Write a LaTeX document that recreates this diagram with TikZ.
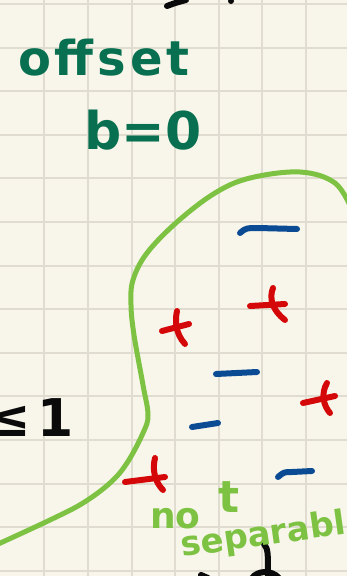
\documentclass[tikz,border=0pt]{standalone}
\usepackage{fontspec}
\setmainfont{DejaVu Sans}
\definecolor{paper}{RGB}{248,246,234}
\definecolor{gridc}{RGB}{224,221,208}
\definecolor{inkgreen}{RGB}{8,112,80}
\definecolor{limeg}{RGB}{125,194,66}
\definecolor{redink}{RGB}{212,8,8}
\definecolor{blueink}{RGB}{10,75,148}
\definecolor{blackink}{RGB}{10,10,10}
\tikzset{
  pen/.style={line width=6pt, line cap=round, line join=round},
  plusmark/.style={pen, draw=redink},
  minusmark/.style={pen, draw=blueink},
  txt/.style={inner sep=0pt, anchor=base west}
}
\begin{document}
\begin{tikzpicture}[x=1pt,y=-1pt]
\useasboundingbox (0,0) rectangle (347,576);
\clip (0,0) rectangle (347,576);
\fill[paper] (0,0) rectangle (347,576);
% grid
\foreach \k in {1,...,7} {\draw[gridc, line width=2pt] ({0.7+43.6*\k},0) -- ({0.7+43.6*\k},576);}
\foreach \k in {0,...,13} {\draw[gridc, line width=2pt] (0,{4+43.6*\k}) -- (347,{4+43.6*\k});}
% black fragments
\draw[pen, draw=blackink] (167,6) .. controls (175,3) .. (186,0);
\fill[blackink] (231,1) circle (3);
\draw[pen, draw=blackink] (264,544) .. controls (268,550) .. (268,578);
\draw[pen, draw=blackink] (279,578) .. controls (272,570) and (258,570) .. (252,578);
\draw[pen, draw=blackink] (201,575) -- (208,578);
% text
\node[txt, text=inkgreen, font=\bfseries\fontsize{48}{48}\selectfont\addfontfeature{LetterSpace=8}] (off) at (18,75) {offset};
\node[txt, text=inkgreen, font=\bfseries\fontsize{52}{52}\selectfont] (beq) at (84,149) {b=0};
\node[txt, anchor=base east, text=blackink, font=\bfseries\fontsize{52}{52}\selectfont] (le) at (74,436) {≤\hspace{0.12em}1};
\node[txt, text=limeg, font=\bfseries\fontsize{36}{36}\selectfont] (nt) at (150,528) {no\hspace{18pt}\raisebox{16pt}{\fontsize{44}{44}\selectfont t}};
\node[txt, text=limeg, rotate=8, font=\bfseries\fontsize{34}{34}\selectfont] (sep) at (182,557) {separabl};
% green boundary curve
\draw[limeg, line width=5pt, line cap=round] plot[smooth, tension=0.6] coordinates {
 (352,210) (335,183) (300,172) (250,178) (215,193) (177,222) (147,253) (133,280)
 (131,305) (134,335) (143,385) (148,415) (143,433) (127,463) (110,483) (83,503) (50,520) (-4,545)};
% minus signs
\draw[minusmark] (240,233) .. controls (246,228) .. (258,228) -- (297,229);
\draw[minusmark] (216,374) -- (257,372);
\draw[minusmark] (192,427) -- (218,423);
\draw[minusmark] (278,477) .. controls (284,472) .. (292,472) -- (312,471);
% plus signs
\draw[plusmark] (162,331) -- (189,324);
\draw[plusmark] (177,311) .. controls (175,320) and (175,333) .. (185,344);
\draw[plusmark] (250,306) -- (285,304);
\draw[plusmark] (273,288) .. controls (269,298) and (272,310) .. (285,320);
\draw[plusmark] (303,403) -- (335,396);
\draw[plusmark] (327,383) .. controls (321,393) and (323,405) .. (330,413);
\draw[plusmark] (125,482) -- (165,477);
\draw[plusmark] (155,458) .. controls (152,470) and (155,482) .. (163,490);
\end{tikzpicture}
\end{document}
